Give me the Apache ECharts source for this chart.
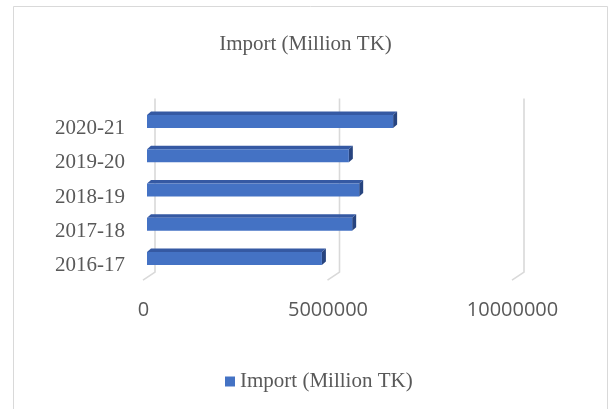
<!DOCTYPE html>
<html>
<head>
<meta charset="utf-8">
<script src="https://cdn.jsdelivr.net/npm/echarts@6/dist/echarts.min.js"></script>
<style>
  html, body { margin: 0; padding: 0; background: #fff; }
  #chart { width: 611px; height: 409px; }
</style>
</head>
<body>
<div id="chart"></div>
<script>
// values
const categories = ['2016-17', '2017-18', '2018-19', '2019-20', '2020-21']
const importValues = [4740000, 5560000, 5750000, 5470000, 6670000]
const xTicks = [0, 5000000, 10000000]
const seriesName = 'Import (Million TK)'

const chart = echarts.init(document.getElementById('chart'))

// pseudo 3d wall / floor lines behind the bars
const renderWall = (params, api) => {
  const cs = params.coordSys
  const x = api.coord([api.value(0), 0])[0]
  const back = x + 8
  const front = x - 4
  return {
    type: 'polyline',
    shape: { points: [[back, cs.y - 6], [back, cs.y + cs.height - 3.5], [front, cs.y + cs.height + 4.5]] },
    style: { stroke: '#d9d9d9', lineWidth: 1.6, fill: null },
  }
}

// 3d-ish bar: front face, top face and right side
const renderBar = (params, api) => {
  const cat = api.value(1)
  const p0 = api.coord([0, cat])
  const p1 = api.coord([api.value(0), cat])
  const h = api.size([0, 1])[1] * 0.38
  const dx = 4, dy = 3.5
  const yTop = p0[1] - h / 2
  const yBot = p0[1] + h / 2
  return {
    type: 'group',
    children: [
      {
        type: 'polygon',
        shape: { points: [[p0[0], yTop], [p1[0], yTop], [p1[0] + dx, yTop - dy], [p0[0] + dx, yTop - dy]] },
        style: { fill: '#3559a3' },
      },
      {
        type: 'polygon',
        shape: { points: [[p1[0], yTop], [p1[0] + dx, yTop - dy], [p1[0] + dx, yBot - dy], [p1[0], yBot]] },
        style: { fill: '#27447f' },
      },
      {
        type: 'rect',
        shape: { x: p0[0], y: yTop, width: p1[0] - p0[0], height: h },
        style: { fill: '#4472c4' },
      },
    ],
  }
}

const option = {
  backgroundColor: '#fff',
  animation: false,
  title: {
    text: seriesName,
    left: 'center',
    top: 29,
    textStyle: { fontFamily: 'Liberation Serif', fontSize: 21, fontWeight: 'normal', color: '#595959' },
  },
  legend: {
    data: [seriesName],
    left: 220,
    top: 366,
    icon: 'rect',
    itemWidth: 10,
    itemHeight: 10,
    itemGap: 4,
    textStyle: { fontFamily: 'Liberation Serif', fontSize: 21, color: '#595959' },
  },
  graphic: [
    {
      type: 'rect',
      shape: { x: 13.5, y: 6.5, width: 594, height: 420 },
      style: { fill: null, stroke: '#d9d9d9', lineWidth: 1 },
      silent: true,
    },
  ],
  grid: { left: 147, right: 95, top: 104.4, bottom: 133.4 },
  xAxis: {
    type: 'value',
    min: 0,
    max: 10000000,
    interval: 5000000,
    axisLine: { show: false },
    axisTick: { show: false },
    splitLine: { show: false },
    axisLabel: {
      color: '#595959',
      fontFamily: 'Open Sans',
      fontSize: 20,
      margin: 25,
      padding: [0, 7, 0, 0],
      formatter: v => String(v),
    },
  },
  yAxis: {
    type: 'category',
    data: categories,
    axisLine: { show: false },
    axisTick: { show: false },
    splitLine: { show: false },
    axisLabel: {
      color: '#595959',
      fontFamily: 'Liberation Serif',
      fontSize: 21,
      margin: 22,
      verticalAlign: 'top',
      lineHeight: 14,
    },
  },
  series: [
    {
      name: 'wall',
      type: 'custom',
      renderItem: renderWall,
      data: xTicks.map(v => [v, 0]),
      encode: { x: 0, y: 1 },
      clip: false,
      silent: true,
      z: 1,
    },
    {
      name: seriesName,
      type: 'custom',
      renderItem: renderBar,
      data: importValues.map((v, i) => [v, i]),
      encode: { x: 0, y: 1 },
      itemStyle: { color: '#4472c4' },
      clip: false,
      z: 2,
    },
  ],
}

chart.setOption(option)
</script>
</body>
</html>
